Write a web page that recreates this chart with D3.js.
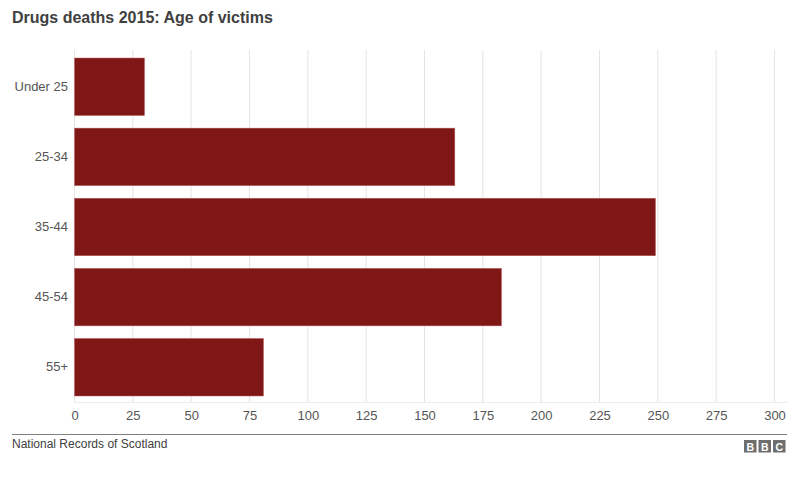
<!DOCTYPE html>
<html>
<head>
<meta charset="utf-8">
<script src="https://cdn.jsdelivr.net/npm/d3@7"></script>
<style>
  body { margin: 0; background: #fff; }
  svg { display: block; font-family: "Liberation Sans", Arial, sans-serif; }
</style>
</head>
<body>
<svg id="chart" width="800" height="500"></svg>
<script>
const categories = ["Under 25", "25-34", "35-44", "45-54", "55+"];
const values = [30, 163, 249, 183, 81];
const xTicks = [0, 25, 50, 75, 100, 125, 150, 175, 200, 225, 250, 275, 300];
const title = "Drugs deaths 2015: Age of victims";
const source = "National Records of Scotland";

const svg = d3.select("#chart");
const x = d3.scaleLinear().domain([0, 300]).range([74.5, 774.5]);
const y = d3.scaleBand().domain(categories).range([51, 403]).paddingInner(0.18).paddingOuter(0.1);

// title
svg.append("text").attr("x", 12).attr("y", 23)
  .attr("font-size", 16).attr("font-weight", "bold").attr("fill", "#404040")
  .text(title);

// gridlines
svg.append("g").selectAll("line").data(xTicks).join("line")
  .attr("x1", d => x(d)).attr("x2", d => x(d))
  .attr("y1", 50).attr("y2", 403)
  .attr("stroke", "#e5e5e5").attr("stroke-width", 1);

svg.append("line").attr("x1", 74).attr("x2", 787).attr("y1", 402.5).attr("y2", 402.5)
  .attr("stroke", "#ececec");

// bars
svg.append("g").selectAll("rect").data(categories).join("rect")
  .attr("x", x(0)).attr("y", d => y(d))
  .attr("width", (d, i) => x(values[i]) - x(0))
  .attr("height", y.bandwidth())
  .attr("fill", "#7f1716")
  .attr("stroke", "#b86060").attr("stroke-width", 0.5);

// x axis labels
const xAxis = d3.axisBottom(x).tickValues(xTicks).tickSize(0).tickPadding(0);
const gx = svg.append("g").attr("transform", "translate(0,411)").call(xAxis);
gx.select(".domain").remove();
gx.selectAll("text").attr("font-size", 13).attr("fill", "#555")
  .attr("font-family", "Liberation Sans, Arial, sans-serif").attr("dy", "0.71em");

// y axis labels
const yAxis = d3.axisLeft(y).tickSize(0).tickPadding(0);
const gy = svg.append("g").attr("transform", "translate(68,0)").call(yAxis);
gy.select(".domain").remove();
gy.selectAll("text").attr("font-size", 13).attr("fill", "#555")
  .attr("font-family", "Liberation Sans, Arial, sans-serif");

// footer
svg.append("line").attr("x1", 12).attr("x2", 787).attr("y1", 434.5).attr("y2", 434.5)
  .attr("stroke", "#808080").attr("stroke-width", 1);
svg.append("text").attr("x", 12).attr("y", 448)
  .attr("font-size", 12).attr("fill", "#404040").text(source);

const logo = ["B", "B", "C"];
const lg = svg.append("g");
logo.forEach((l, i) => {
  const lx = 744 + i * 14.5;
  lg.append("rect").attr("x", lx).attr("y", 440).attr("width", 12.5).attr("height", 12.5).attr("fill", "#6e6e6e");
  lg.append("text").attr("x", lx + 6.25).attr("y", 450.5).attr("text-anchor", "middle")
    .attr("font-size", 10.5).attr("font-weight", "bold").attr("fill", "#fff").text(l);
});
</script>
</body>
</html>
